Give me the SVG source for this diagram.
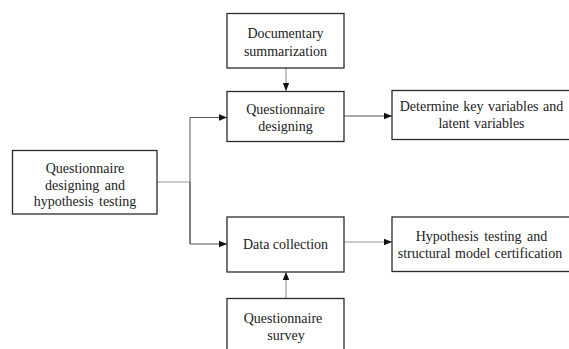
<svg xmlns="http://www.w3.org/2000/svg" width="569" height="349" viewBox="0 0 569 349">
<style>
.box{fill:#fff;stroke:#2b2b2b;stroke-width:1.3}
.t{font-family:"Liberation Serif","Times New Roman",serif;font-size:14px;fill:#222;text-anchor:middle}
.c{fill:none;stroke:#555;stroke-width:1}
.g{fill:none;stroke:#999;stroke-width:1.2}
</style>
<defs>
<marker id="ah" viewBox="0 0 8 8" refX="8" refY="4" markerWidth="8" markerHeight="8" markerUnits="userSpaceOnUse" orient="auto">
<path d="M0,0.8 L8,4 L0,7.2 Z" fill="#111"/>
</marker>
</defs>
<rect width="569" height="349" fill="#fff"/>
<g id="connectors">
<path class="g" d="M286,68 V91" marker-end="url(#ah)"/>
<path class="g" d="M157,182 H190"/>
<path class="c" d="M190,244 V117.5 H227" marker-end="url(#ah)"/>
<path class="c" d="M190,182 V244 H227" marker-end="url(#ah)"/>
<path class="c" d="M344,116 H392" marker-end="url(#ah)"/>
<path class="g" d="M344,242 H392" marker-end="url(#ah)"/>
<path class="g" d="M286,298 V272" marker-end="url(#ah)"/>
</g>
<g id="doc">
<rect class="box" x="227" y="13.5" width="117" height="54.5"/>
<text class="t" x="285.5" y="38">Documentary</text>
<text class="t" x="285.5" y="56">summarization</text>
</g>
<g id="qd">
<rect class="box" x="227" y="91.5" width="117" height="50"/>
<text class="t" x="285.5" y="114">Questionnaire</text>
<text class="t" x="285.5" y="131">designing</text>
</g>
<g id="det">
<rect class="box" x="392" y="90.5" width="180" height="49"/>
<text class="t" x="481.5" y="111" word-spacing="1">Determine key variables and</text>
<text class="t" x="481.5" y="128" word-spacing="1">latent variables</text>
</g>
<g id="left">
<rect class="box" x="12.5" y="150.5" width="144.5" height="63.5"/>
<text class="t" x="85" y="173">Questionnaire</text>
<text class="t" x="85" y="189.5" word-spacing="2">designing and</text>
<text class="t" x="85" y="206" word-spacing="2">hypothesis testing</text>
</g>
<g id="dc">
<rect class="box" x="227" y="217" width="117" height="55"/>
<text class="t" x="285.5" y="249">Data collection</text>
</g>
<g id="hyp">
<rect class="box" x="392" y="217" width="180" height="54.5"/>
<text class="t" x="481.5" y="241" word-spacing="2">Hypothesis testing and</text>
<text class="t" x="480" y="257.5" word-spacing="1">structural model certification</text>
</g>
<g id="qs">
<rect class="box" x="227" y="298.5" width="117" height="55"/>
<text class="t" x="283" y="323">Questionnaire</text>
<text class="t" x="286" y="340">survey</text>
</g>
</svg>
